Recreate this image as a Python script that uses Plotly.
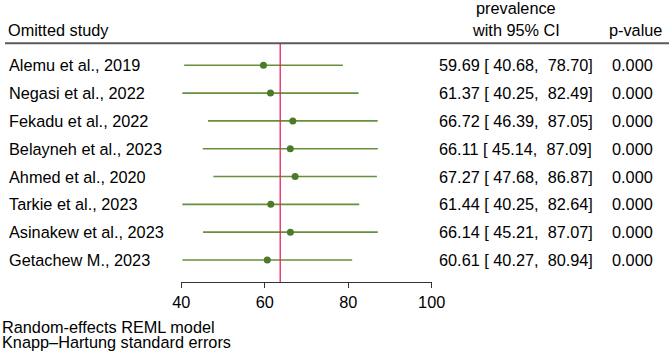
import plotly.graph_objects as go

studies = ["Alemu et al., 2019", "Negasi et al., 2022", "Fekadu et al., 2022",
           "Belayneh et al., 2023", "Ahmed et al., 2020", "Tarkie et al., 2023",
           "Asinakew et al., 2023", "Getachew M., 2023"]
est = [59.69, 61.37, 66.72, 66.11, 67.27, 61.44, 66.14, 60.61]
lo = [40.68, 40.25, 46.39, 45.14, 47.68, 40.25, 45.21, 40.27]
hi = [78.70, 82.49, 87.05, 87.09, 86.87, 82.64, 87.07, 80.94]
pvals = ["0.000"] * 8
overall = 63.7
xticks = [40, 60, 80, 100]

W, H = 669, 354
FONT = "Liberation Sans, Arial, sans-serif"
FS = 16.3
GREEN_LINE = "#66903a"
GREEN_DOT = "#4d7a29"
RED = "#e4235f"

rows = [-i for i in range(len(studies))]
ymax = 2.348
ymin = -7.792

def px(x):
    return x / W

def py(y):
    return 1 - y / H

fig = go.Figure()
fig.add_trace(go.Scatter(
    x=est, y=rows, mode="markers",
    marker=dict(color=GREEN_DOT, size=7),
    error_x=dict(type="data", symmetric=False,
                 array=[h - e for h, e in zip(hi, est)],
                 arrayminus=[e - l for e, l in zip(est, lo)],
                 color=GREEN_LINE, thickness=1.6, width=0),
    hoverinfo="skip", showlegend=False,
))

# overall vertical line
fig.add_shape(type="line", xref="x", yref="paper", x0=overall, x1=overall,
              y0=py(282), y1=py(44), line=dict(color=RED, width=1.3))
# header separator line
fig.add_shape(type="line", xref="paper", yref="paper", x0=px(5), x1=1,
              y0=py(43.3), y1=py(43.3), line=dict(color="#5a5a5a", width=2))

ann = []
def add(text, x, y, xanchor="left", yref="paper"):
    ann.append(dict(text=text, x=x, y=y, xref="paper", yref=yref,
                    xanchor=xanchor, yanchor="middle", showarrow=False,
                    borderpad=0, borderwidth=0,
                    font=dict(family=FONT, size=FS, color="black")))

add("Omitted study", px(8), py(30))
add("prevalence", px(516), py(8), "center")
add("with 95% CI", px(516), py(30), "center")
add("p-value", px(635), py(30), "center")

for r, s, e, l, h, p in zip(rows, studies, est, lo, hi, pvals):
    add(s, px(9), r, "left", "y")
    add(f"{e:.2f} [ {l:.2f},  {h:.2f}]", px(515.5), r, "center", "y")
    add(p, px(632), r, "center", "y")

add("Random-effects REML model", px(2), py(326.5))
add("Knapp\u2013Hartung standard errors", px(2), py(341.5))

fig.update_layout(
    width=W, height=H,
    margin=dict(l=0, r=0, t=0, b=0, pad=0, autoexpand=False),
    paper_bgcolor="white", plot_bgcolor="white",
    annotations=ann,
    font=dict(family=FONT, size=FS, color="black"),
    xaxis=dict(domain=[181.3 / W, 431.7 / W], range=[40, 100],
               tickvals=xticks, ticks="outside", ticklen=5, tickcolor="#333",
               showline=True, linecolor="#333", linewidth=1,
               showgrid=False, zeroline=False, automargin=False,
               tickfont=dict(family=FONT, size=FS, color="black")),
    yaxis=dict(domain=[1 - 282 / H, 1], range=[ymin, ymax],
               visible=False, showgrid=False, zeroline=False, automargin=False),
)

fig.write_html("out.html", config={"displayModeBar": False},
               post_script="document.body.style.margin='0';document.body.style.padding='0';")
